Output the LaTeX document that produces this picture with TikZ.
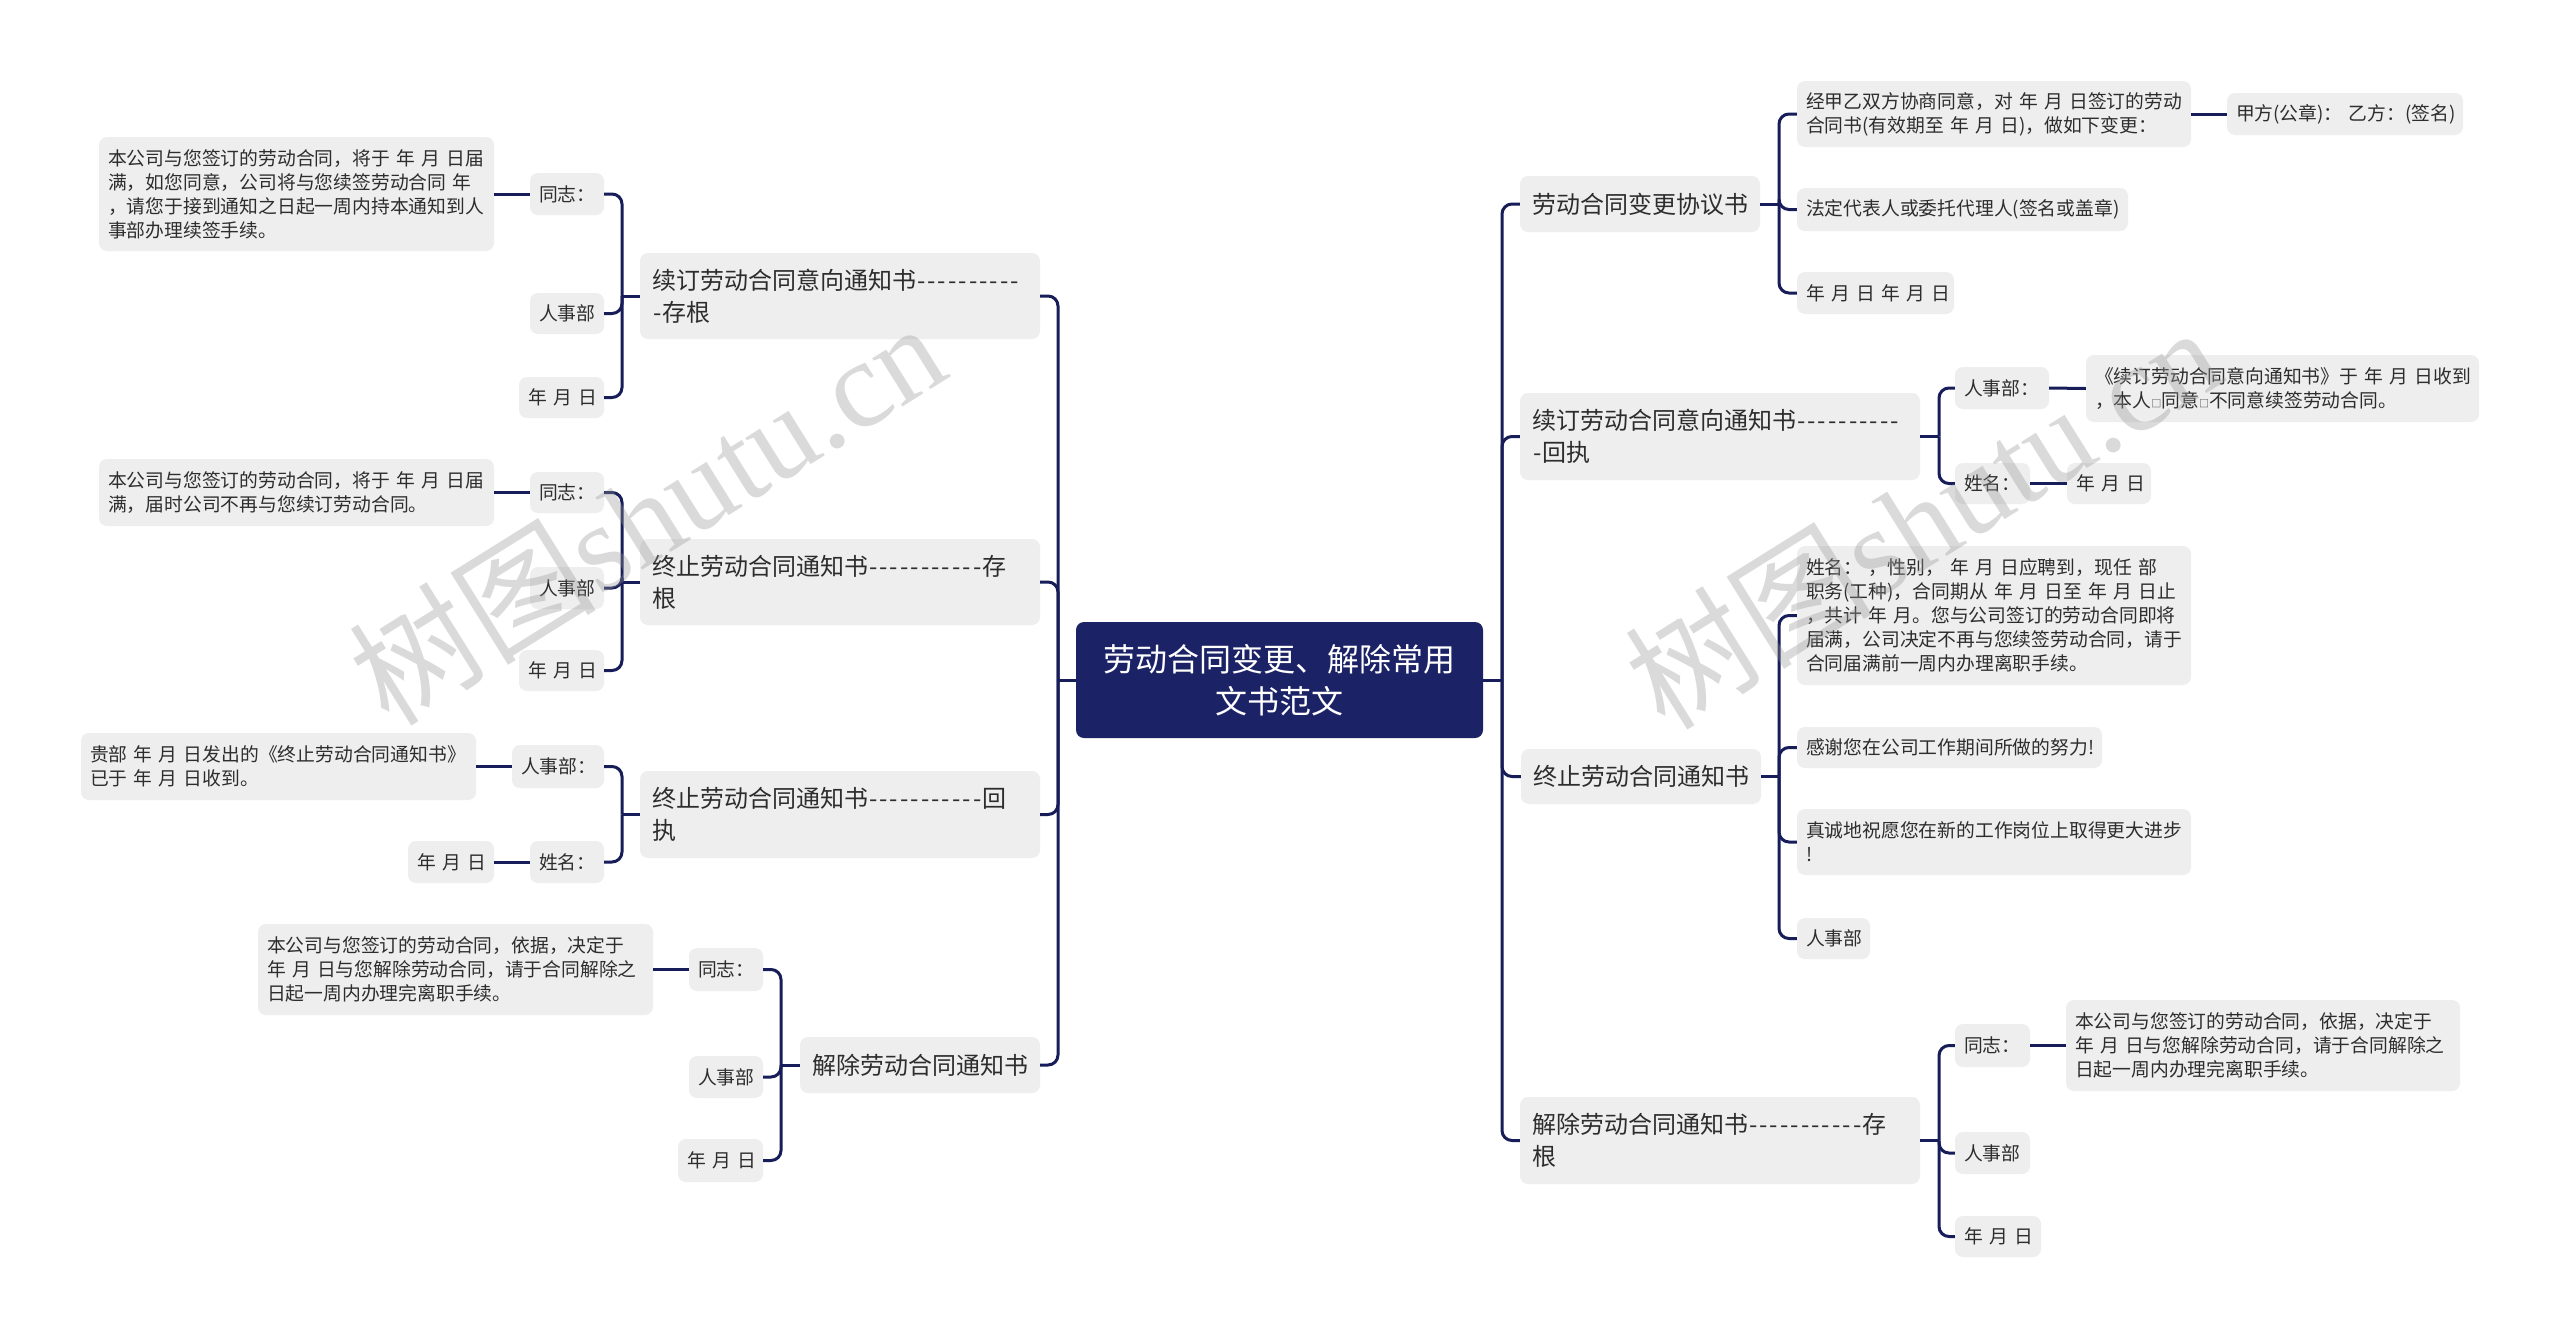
\documentclass[tikz,border=0pt]{standalone}
\usepackage{fontspec}
\setmainfont{Noto Sans CJK SC}[WordSpace=1.4,Ligatures=TeXOff]
\newfontfamily\wmlatin{Liberation Serif}
\usetikzlibrary{calc}
\definecolor{linec}{RGB}{23,29,88}
\definecolor{rootc}{RGB}{27,34,102}
\definecolor{boxc}{RGB}{238,238,238}
\definecolor{txtc}{RGB}{45,45,45}
\definecolor{wmc}{RGB}{150,150,150}
\newcommand{\smsq}{{\fontsize{10}{10}\selectfont □}}
\newcommand{\onedash}{\makebox[10.4pt][c]{-}}
\newcommand{\dashes}[1]{\foreach \di in {1,...,#1}{\onedash}}
\tikzset{
  box/.style={fill=boxc, rounded corners=8pt, inner xsep=0pt, inner ysep=0pt, align=left, text=txtc},
  leaf/.style={box, font=\fontsize{18.8}{24}\selectfont},
  mtopic/.style={box, font=\fontsize{24}{32}\selectfont},
  rootbox/.style={fill=rootc, rounded corners=8pt, inner xsep=0pt, inner ysep=0pt, align=center, text=white, font=\fontsize{32}{42}\selectfont},
  conn/.style={draw=linec, line width=3pt, rounded corners=10pt},
  wm/.style={text=wmc, opacity=0.35, inner sep=0pt, font=\fontsize{124}{124}\selectfont},
}
% name, style, x1, y1, x2, y2, pad, text
\newcommand{\mybox}[8]{%
  \pgfmathsetmacro{\mbW}{#5-#3}%
  \pgfmathsetmacro{\mbH}{#6-#4}%
  \pgfmathsetmacro{\mbX}{(#3+#5)/2}%
  \pgfmathsetmacro{\mbY}{(#4+#6)/2}%
  \pgfmathsetmacro{\mbT}{#5-#3-2*#7}%
  \node[#2, minimum width=\mbW pt, minimum height=\mbH pt, text width=\mbT pt] (#1) at (\mbX,\mbY) {#8};%
}
\begin{document}
\begin{tikzpicture}[x=1pt,y=-1pt]
\useasboundingbox (0,0) rectangle (2560,1339);
\fill[white] (0,0) rectangle (2560,1339);

% root
\mybox{root}{rootbox}{1076}{622}{1483}{738}{20}{劳动合同变更、解除常用\\文书范文}

% ---------- left side ----------
\mybox{A}{mtopic}{640}{253}{1040}{339}{12}{续订劳动合同意向通知书\dashes{10}\\\onedash 存根}
\mybox{A1}{leaf}{530}{173}{604}{215}{9}{同志：}
\mybox{A1L}{leaf}{99}{137}{494}{251}{9}{本公司与您签订的劳动合同，将于~年~月~日届\\满，如您同意，公司将与您续签劳动合同~年\\，请您于接到通知之日起一周内持本通知到人\\事部办理续签手续。}
\mybox{A2}{leaf}{530}{293}{604}{334}{9}{人事部}
\mybox{A3}{leaf}{519}{377}{604}{418}{9}{年~月~日}

\mybox{B}{mtopic}{640}{539}{1040}{625}{12}{终止劳动合同通知书\dashes{11}存\\根}
\mybox{B1}{leaf}{530}{472}{604}{513}{9}{同志：}
\mybox{B1L}{leaf}{99}{459}{494}{526}{9}{本公司与您签订的劳动合同，将于~年~月~日届\\满，届时公司不再与您续订劳动合同。}
\mybox{B2}{leaf}{530}{567}{604}{609}{9}{人事部}
\mybox{B3}{leaf}{519}{650}{604}{691}{9}{年~月~日}

\mybox{C}{mtopic}{640}{771}{1040}{858}{12}{终止劳动合同通知书\dashes{11}回\\执}
\mybox{C1}{leaf}{512}{745}{604}{788}{9}{人事部：}
\mybox{C1L}{leaf}{81}{733}{476}{800}{9}{贵部~年~月~日发出的《终止劳动合同通知书》\\已于~年~月~日收到。}
\mybox{C2}{leaf}{530}{841}{604}{883}{9}{姓名：}
\mybox{C2L}{leaf}{408}{841}{494}{883}{9}{年~月~日}

\mybox{D}{mtopic}{800}{1037}{1040}{1093}{12}{解除劳动合同通知书}
\mybox{D1}{leaf}{689}{948}{763}{991}{9}{同志：}
\mybox{D1L}{leaf}{258}{924}{653}{1015}{9}{本公司与您签订的劳动合同，依据，决定于\\年~月~日与您解除劳动合同，请于合同解除之\\日起一周内办理完离职手续。}
\mybox{D2}{leaf}{689}{1056}{763}{1098}{9}{人事部}
\mybox{D3}{leaf}{678}{1139}{763}{1182}{9}{年~月~日}

% ---------- right side ----------
\mybox{E}{mtopic}{1520}{176}{1760}{232}{12}{劳动合同变更协议书}
\mybox{E1}{leaf}{1797}{81}{2191}{147}{9}{经甲乙双方协商同意，对~年~月~日签订的劳动\\合同书(有效期至~年~月~日)，做如下变更：}
\mybox{E1R}{leaf}{2227}{93}{2463}{135}{9}{甲方(公章)：~乙方：(签名)}
\mybox{E2}{leaf}{1797}{188}{2128}{231}{9}{法定代表人或委托代理人(签名或盖章)}
\mybox{E3}{leaf}{1797}{272}{1954}{314}{9}{年~月~日~年~月~日}

\mybox{F}{mtopic}{1520}{393}{1920}{480}{12}{续订劳动合同意向通知书\dashes{10}\\\onedash 回执}
\mybox{F1}{leaf}{1955}{367}{2049}{409}{9}{人事部：}
\mybox{F1R}{leaf}{2086}{355}{2479}{422}{9}{《续订劳动合同意向通知书》于~年~月~日收到\\，本人\smsq 同意\smsq 不同意续签劳动合同。}
\mybox{F2}{leaf}{1955}{463}{2030}{504}{9}{姓名：}
\mybox{F2R}{leaf}{2067}{463}{2151}{504}{9}{年~月~日}

\mybox{G}{mtopic}{1521}{749}{1761}{804}{12}{终止劳动合同通知书}
\mybox{G1}{leaf}{1797}{546}{2191}{685}{9}{姓名：~，性别，~年~月~日应聘到，现任~部\\职务(工种)，合同期从~年~月~日至~年~月~日止\\，共计~年~月。您与公司签订的劳动合同即将\\届满，公司决定不再与您续签劳动合同，请于\\合同届满前一周内办理离职手续。}
\mybox{G2}{leaf}{1797}{727}{2102}{768}{9}{感谢您在公司工作期间所做的努力!}
\mybox{G3}{leaf}{1797}{809}{2191}{875}{9}{真诚地祝愿您在新的工作岗位上取得更大进步\\!}
\mybox{G4}{leaf}{1797}{918}{1870}{959}{9}{人事部}

\mybox{H}{mtopic}{1520}{1097}{1920}{1184}{12}{解除劳动合同通知书\dashes{11}存\\根}
\mybox{H1}{leaf}{1955}{1024}{2030}{1067}{9}{同志：}
\mybox{H1R}{leaf}{2066}{1000}{2460}{1091}{9}{本公司与您签订的劳动合同，依据，决定于\\年~月~日与您解除劳动合同，请于合同解除之\\日起一周内办理完离职手续。}
\mybox{H2}{leaf}{1955}{1132}{2030}{1174}{9}{人事部}
\mybox{H3}{leaf}{1955}{1216}{2041}{1257}{9}{年~月~日}

% trunk positions
\coordinate (tL) at (1058,0);
\coordinate (tR) at (1502,0);
\coordinate (tA) at (622,0);
\coordinate (tD) at (781,0);
\coordinate (tE) at (1779,0);
\coordinate (tF) at (1939,0);

% ---------- connectors ----------
\draw[conn] (root.west) -- (root.west -| tL);
\foreach \n in {A,B,C,D} \draw[conn] (root.west -| tL) |- (\n.east);
\draw[conn] (root.east) -- (root.east -| tR);
\foreach \n in {E,F,G,H} \draw[conn] (root.east -| tR) |- (\n.west);

\draw[conn] (A.west) -- (A.west -| tA);
\foreach \n in {A1,A2,A3} \draw[conn] (A.west -| tA) |- (\n.east);
\draw[conn] (A1.west) -- (A1L.east);

\draw[conn] (B.west) -- (B.west -| tA);
\foreach \n in {B1,B2,B3} \draw[conn] (B.west -| tA) |- (\n.east);
\draw[conn] (B1.west) -- (B1L.east);

\draw[conn] (C.west) -- (C.west -| tA);
\foreach \n in {C1,C2} \draw[conn] (C.west -| tA) |- (\n.east);
\draw[conn] (C1.west) -- (C1L.east);
\draw[conn] (C2.west) -- (C2L.east);

\draw[conn] (D.west) -- (D.west -| tD);
\foreach \n in {D1,D2,D3} \draw[conn] (D.west -| tD) |- (\n.east);
\draw[conn] (D1.west) -- (D1L.east);

\draw[conn] (E.east) -- (E.east -| tE);
\foreach \n in {E1,E2,E3} \draw[conn] (E.east -| tE) |- (\n.west);
\draw[conn] (E1.east) -- (E1R.west);

\draw[conn] (F.east) -- (F.east -| tF);
\foreach \n in {F1,F2} \draw[conn] (F.east -| tF) |- (\n.west);
\draw[conn] (F1.east) -- (F1R.west);
\draw[conn] (F2.east) -- (F2R.west);

\draw[conn] (G.east) -- (G.east -| tE);
\foreach \n in {G1,G2,G3,G4} \draw[conn] (G.east -| tE) |- (\n.west);

\draw[conn] (H.east) -- (H.east -| tF);
\foreach \n in {H1,H2,H3} \draw[conn] (H.east -| tF) |- (\n.west);
\draw[conn] (H1.east) -- (H1R.west);

% watermarks
\node[wm, rotate=32] (wm1) at (646,512) {树图{\wmlatin shutu.cn}};
\node[wm, rotate=32] (wm2) at (1922,516) {树图{\wmlatin shutu.cn}};
\end{tikzpicture}
\end{document}
